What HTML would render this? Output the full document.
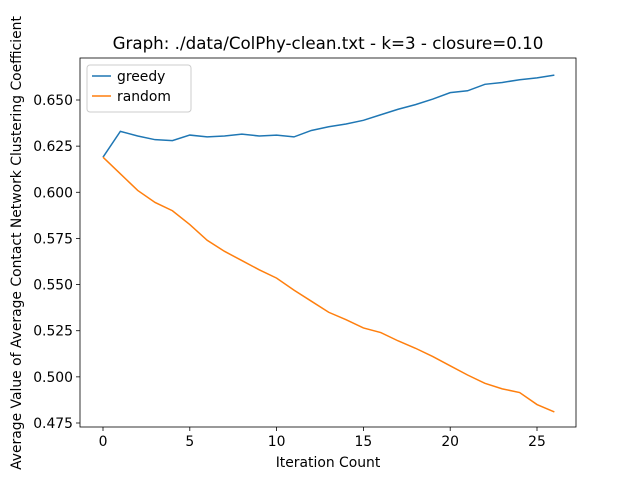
<!DOCTYPE html>
<html><head><meta charset="utf-8"><style>
body{margin:0;background:#fff;}
svg{display:block;font-family:"DejaVu Sans","Liberation Sans",sans-serif;}
</style></head><body>
<svg id="chart" width="640" height="480" viewBox="0 0 640 480">
<rect width="640" height="480" fill="#fff"/>
<text x="328" y="49" font-size="16.7" text-anchor="middle">Graph: ./data/ColPhy-clean.txt - k=3 - closure=0.10</text>
<g id="plot"></g>
<text x="328" y="467" font-size="13.9" text-anchor="middle">Iteration Count</text>
<text transform="translate(21,243) rotate(-90)" font-size="13.9" text-anchor="middle">Average Value of Average Contact Network Clustering Coefficient</text>
</svg>
<script>
const iterations=[0,1,2,3,4,5,6,7,8,9,10,11,12,13,14,15,16,17,18,19,20,21,22,23,24,25,26];
const greedyValues=[0.619,0.633,0.6305,0.6285,0.628,0.631,0.630,0.6305,0.6315,0.6305,0.631,0.630,0.6335,0.6355,0.637,0.639,0.642,0.645,0.6475,0.6505,0.654,0.655,0.6585,0.6595,0.661,0.662,0.6635];
const randomValues=[0.619,0.610,0.601,0.5945,0.590,0.5825,0.574,0.568,0.563,0.558,0.5535,0.547,0.541,0.535,0.531,0.5265,0.524,0.5195,0.5155,0.511,0.506,0.501,0.4965,0.4935,0.4915,0.485,0.481];
const xTicks=[0,5,10,15,20,25];
const yTicks=[0.475,0.500,0.525,0.550,0.575,0.600,0.625,0.650];
const L=80,R=576,T=58,B=427;
function xs(v){return 103+(v-0)*(537-103)/25;}
function ys(v){return 100+(0.650-v)*(423-100)/0.175;}
const NS="http://www.w3.org/2000/svg";
const g=document.getElementById('plot');
function mk(t,a){const e=document.createElementNS(NS,t);for(const k in a)e.setAttribute(k,a[k]);g.appendChild(e);return e;}
xTicks.forEach(t=>{
  const l=mk('line',{x1:xs(t),x2:xs(t),y1:B,y2:B+4,stroke:'#000','stroke-width':0.8});
  
  
  const s=mk('text',{x:xs(t),y:B+19,'font-size':13.9,'text-anchor':'middle'});
  s.textContent=t;
  
  
});
yTicks.forEach(t=>{
  const l=mk('line',{x1:L-4,x2:L,y1:ys(t),y2:ys(t),stroke:'#000','stroke-width':0.8});
  
  
  const s=mk('text',{x:L-7,y:ys(t)+5,'font-size':13.9,'text-anchor':'end'});
  s.textContent=t.toFixed(3);
  
  
});
function line(vals,col,name){
  const p=mk('polyline',{points:vals.map((v,i)=>xs(iterations[i])+','+ys(v)).join(' '),fill:'none',stroke:col,'stroke-width':1.5});
  
  
}
line(greedyValues,'#1f77b4','greedy-line');
line(randomValues,'#ff7f0e','random-line');
const fr=mk('rect',{x:L,y:T,width:R-L,height:B-T,fill:'none',stroke:'#000','stroke-width':0.8});


const lg=mk('rect',{x:87,y:65,width:104,height:47,rx:3,fill:'#fff',stroke:'#ccc','stroke-width':1});


[['greedy','#1f77b4',76],['random','#ff7f0e',96]].forEach(([n,c,y])=>{
  const l=mk('line',{x1:92,x2:111,y1:y,y2:y,stroke:c,'stroke-width':1.5});
  
  
  const s=mk('text',{x:117,y:y+5,'font-size':13.9});
  s.textContent=n;
  
  
});
</script>
</body></html>
